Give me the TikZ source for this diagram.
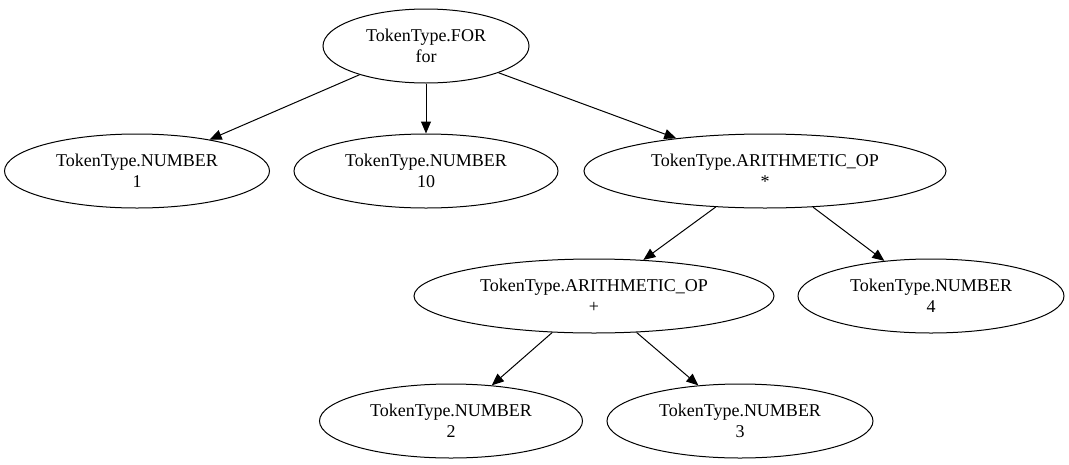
\documentclass[tikz,border=0pt]{standalone}
\usepackage{fontspec}
\setmainfont{Liberation Serif}
\usetikzlibrary{shapes.geometric,arrows.meta}
\begin{document}
\begin{tikzpicture}[x=1pt,y=-1pt,
  tok/.style={draw,ellipse,line width=1pt,minimum height=74pt,align=center,font=\fontsize{18pt}{21pt}\selectfont,inner sep=0pt},
  edge/.style={draw,-{Triangle[length=12pt,width=10pt]},line width=1pt}]
\useasboundingbox (0,0) rectangle (1069,464);
\node[tok,minimum width=206pt] (for) at (426,46) {TokenType.FOR\\for};
\node[tok,minimum width=265pt] (n1) at (137,171) {TokenType.NUMBER\\1};
\node[tok,minimum width=264pt] (n10) at (426,171) {TokenType.NUMBER\\10};
\node[tok,minimum width=362pt] (mul) at (765,171) {TokenType.ARITHMETIC\_OP\\*};
\node[tok,minimum width=360pt] (add) at (594,296) {TokenType.ARITHMETIC\_OP\\+};
\node[tok,minimum width=266pt] (n4) at (931,296) {TokenType.NUMBER\\4};
\node[tok,minimum width=263pt] (n2) at (451,421) {TokenType.NUMBER\\2};
\node[tok,minimum width=266pt] (n3) at (740,421) {TokenType.NUMBER\\3};
\draw[edge] (for) -- (n1);
\draw[edge] (for) -- (n10);
\draw[edge] (for) -- (mul);
\draw[edge] (mul) -- (add);
\draw[edge] (mul) -- (n4);
\draw[edge] (add) -- (n2);
\draw[edge] (add) -- (n3);
\end{tikzpicture}
\end{document}
